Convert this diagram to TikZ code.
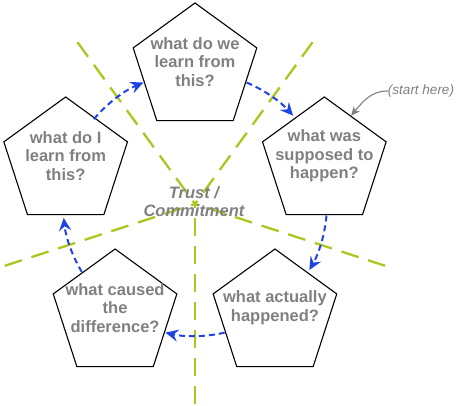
\documentclass[tikz,border=0pt]{standalone}
\usepackage{fontspec}
\setmainfont{Liberation Sans}
\usetikzlibrary{shapes.geometric,arrows.meta}
\definecolor{txtgray}{HTML}{808080}
\definecolor{lime}{HTML}{A8C820}
\definecolor{flowblue}{HTML}{1E44E6}
\begin{document}
\begin{tikzpicture}[x=1pt,y=1pt,
  pent/.style={regular polygon, regular polygon sides=5, minimum size=130pt, inner sep=0pt, draw=black, line width=1.1pt},
  qtxt/.style={text=txtgray, font=\fontsize{16.5}{18.7}\selectfont\bfseries, align=center, inner sep=0pt},
  centertxt/.style={text=txtgray, font=\fontsize{16.5}{18}\selectfont\bfseries\itshape, align=center, inner sep=0pt},
  starttxt/.style={text=txtgray, font=\fontsize{13.5}{15}\selectfont\itshape, inner sep=0pt},
  spoke/.style={draw=lime, line width=2.3pt, dash pattern=on 18pt off 10pt},
  flow/.style={draw=flowblue, line width=2pt, dash pattern=on 6pt off 4pt, -{Stealth[length=13pt,width=12pt,inset=4.5pt]}},
  hint/.style={draw=txtgray, line width=1.1pt, -{Stealth[length=9pt,width=8pt,inset=2.5pt]}}
]
\useasboundingbox (0,0) rectangle (457,406);
\coordinate (O) at (195,202);
% spokes
\foreach \a in {126,54,-18,-90,198}
  \draw[spoke] ([shift={(\a:200pt)}]O) -- (O);
% pentagons
\node[pent] (T)  at ([shift={(90:136pt)}]O) {};
\node[pent] (R)  at ([shift={(18:136pt)}]O) {};
\node[pent] (BR) at ([shift={(-54:136pt)}]O) {};
\node[pent] (BL) at ([shift={(-126:136pt)}]O) {};
\node[pent] (L)  at ([shift={(162:136pt)}]O) {};
% texts
\node[qtxt] (tT)  at ([yshift=6pt]T.center)  {what do we\\learn from\\this?};
\node[qtxt] (tR)  at ([yshift=6pt]R.center)  {what was\\supposed to\\happen?};
\node[qtxt] (tBR) at ([yshift=6pt]BR.center) {what actually\\happened?};
\node[qtxt] (tBL) at ([yshift=6pt]BL.center) {what caused\\the\\difference?};
\node[qtxt] (tL)  at ([yshift=6pt]L.center)  {what do I\\learn from\\this?};
\node[centertxt] (ctr) at ([shift={(-1pt,2pt)}]O) {Trust /\\Commitment};
% flow arcs
\draw[flow] ([shift={(140:132pt)}]O) arc[start angle=140, end angle=113, radius=132pt];
\draw[flow] ([shift={(67:132pt)}]O) arc[start angle=67, end angle=42, radius=132pt];
\draw[flow] ([shift={(-5:132pt)}]O) arc[start angle=-5, end angle=-30, radius=132pt];
\draw[flow] ([shift={(-77:132pt)}]O) arc[start angle=-77, end angle=-103, radius=132pt];
\draw[flow] ([shift={(211:132pt)}]O) arc[start angle=211, end angle=186, radius=132pt];
% start here
\node[starttxt] (sh) at (421,315) {(start here)};
\draw[hint] (sh.west) to[out=180,in=50] (R.60);
\end{tikzpicture}
\end{document}
